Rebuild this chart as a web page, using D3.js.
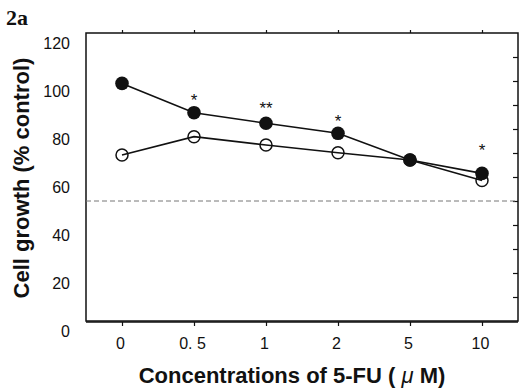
<!DOCTYPE html>
<html>
<head>
<meta charset="utf-8">
<script src="https://cdn.jsdelivr.net/npm/d3@7"></script>
<style>
  html, body { margin: 0; padding: 0; background: #fff; }
  svg { display: block; }
  text { fill: #111; }
</style>
</head>
<body>
<svg id="chart" width="520" height="390"></svg>
<script>
// ---- data ----
const categories = ["0", "0.5", "1", "2", "5", "10"];
const categoryLabels = ["0", "0. 5", "1", "2", "5", "10"];
const filledSeries = [99, 86.8, 82.4, 78.2, 67.1, 61.5];
const openSeries = [69.2, 76.8, 73.3, 70.1, 67.1, 58.5];
const significance = ["", "*", "**", "*", "", "*"];
const significanceY = [null, 93.3, 90, 84.6, null, 72.5];
const yTicks = [0, 20, 40, 60, 80, 100, 120];
const rightTicks = [10, 20, 30, 40, 50, 60, 70, 80, 90, 100, 110];
const referenceLine = 50;

const svg = d3.select("#chart");
const frame = { left: 86, right: 518, top: 33, bottom: 321 };

const x = d3.scalePoint().domain(categories).range([frame.left, frame.right]).padding(0.5);
const y = d3.scaleLinear().domain([0, 120]).range([frame.bottom, frame.top]);

const tickFont = "'Liberation Sans', Arial, sans-serif";

// frame
const g = svg.append("g");
g.append("rect")
  .attr("x", frame.left).attr("y", frame.top)
  .attr("width", frame.right - frame.left).attr("height", frame.bottom - frame.top)
  .attr("fill", "none").attr("stroke", "#111").attr("stroke-width", 1.5);
g.append("line")
  .attr("x1", frame.left).attr("x2", frame.right)
  .attr("y1", frame.bottom + 1).attr("y2", frame.bottom + 1)
  .attr("stroke", "#111").attr("stroke-width", 1.5);

// left axis (labels only)
const yAxis = d3.axisLeft(y).tickValues(yTicks).tickSize(0).tickPadding(16);
const ya = svg.append("g").attr("transform", `translate(${frame.left},0)`).call(yAxis);
ya.select(".domain").remove();
ya.selectAll("text").attr("font-family", tickFont).attr("font-size", 16).attr("fill", "#111").attr("dy", "0.95em");

// right ticks (inward)
const yRight = d3.axisRight(y).tickValues(rightTicks).tickSize(-5).tickFormat("");
const yr = svg.append("g").attr("transform", `translate(${frame.right},0)`).call(yRight);
yr.select(".domain").remove();
yr.selectAll("line").attr("stroke", "#111").attr("stroke-width", 1.2);

// top ticks
const xTop = d3.axisTop(x).tickSize(3).tickFormat("");
const xt = svg.append("g").attr("transform", `translate(0,${frame.top})`).call(xTop);
xt.select(".domain").remove();
xt.selectAll("line").attr("stroke", "#111").attr("stroke-width", 1.2);

// bottom axis
const xBottom = d3.axisBottom(x).tickSize(4).tickPadding(12)
  .tickFormat((d, i) => categoryLabels[i]);
const xb = svg.append("g").attr("transform", `translate(0,${frame.bottom + 1})`).call(xBottom);
xb.select(".domain").remove();
xb.selectAll("line").attr("stroke", "#111").attr("stroke-width", 1.2);
xb.selectAll("text").attr("font-family", tickFont).attr("font-size", 16).attr("fill", "#111").attr("dx", -2);

// dashed reference line
svg.append("line")
  .attr("x1", frame.left).attr("x2", frame.right)
  .attr("y1", y(referenceLine)).attr("y2", y(referenceLine))
  .attr("stroke", "#777").attr("stroke-width", 1).attr("stroke-dasharray", "5,3");

// lines
const line = d3.line().x((d, i) => x(categories[i])).y(d => y(d));
svg.append("path").datum(openSeries).attr("d", line)
  .attr("fill", "none").attr("stroke", "#111").attr("stroke-width", 1.6);
svg.append("path").datum(filledSeries).attr("d", line)
  .attr("fill", "none").attr("stroke", "#111").attr("stroke-width", 1.6);

// markers
svg.append("g").selectAll("circle").data(openSeries).join("circle")
  .attr("cx", (d, i) => x(categories[i])).attr("cy", d => y(d)).attr("r", 6)
  .attr("fill", "none").attr("stroke", "#111").attr("stroke-width", 1.5);
svg.append("g").selectAll("circle").data(filledSeries).join("circle")
  .attr("cx", (d, i) => x(categories[i])).attr("cy", d => y(d)).attr("r", 6.8)
  .attr("fill", "#111");

// significance marks
const sigG = svg.append("g");
significance.forEach((s, i) => {
  if (!s) return;
  sigG.append("text")
    .attr("x", x(categories[i]))
    .attr("y", y(significanceY[i]) + 9)
    .attr("text-anchor", "middle")
    .attr("font-family", tickFont)
    .attr("font-size", 17)
    .attr("fill", "#111")
    .text(s);
});

// axis titles
svg.append("text")
  .attr("transform", "translate(29,178) rotate(-90)")
  .attr("text-anchor", "middle")
  .attr("font-family", "'Liberation Sans', Arial, sans-serif")
  .attr("font-weight", "bold").attr("font-size", 22)
  .text("Cell growth (% control)");

svg.append("text")
  .attr("x", 292).attr("y", 383)
  .attr("text-anchor", "middle")
  .attr("font-family", "'Liberation Sans', Arial, sans-serif")
  .attr("font-weight", "bold").attr("font-size", 22)
  .html("Concentrations of 5-FU ( <tspan font-style='italic' font-weight='normal'>μ</tspan> M)");

// panel label
svg.append("text")
  .attr("x", 6).attr("y", 25)
  .attr("font-family", "'Liberation Serif', 'Times New Roman', serif")
  .attr("font-weight", "bold").attr("font-size", 22)
  .text("2a");
</script>
</body>
</html>
